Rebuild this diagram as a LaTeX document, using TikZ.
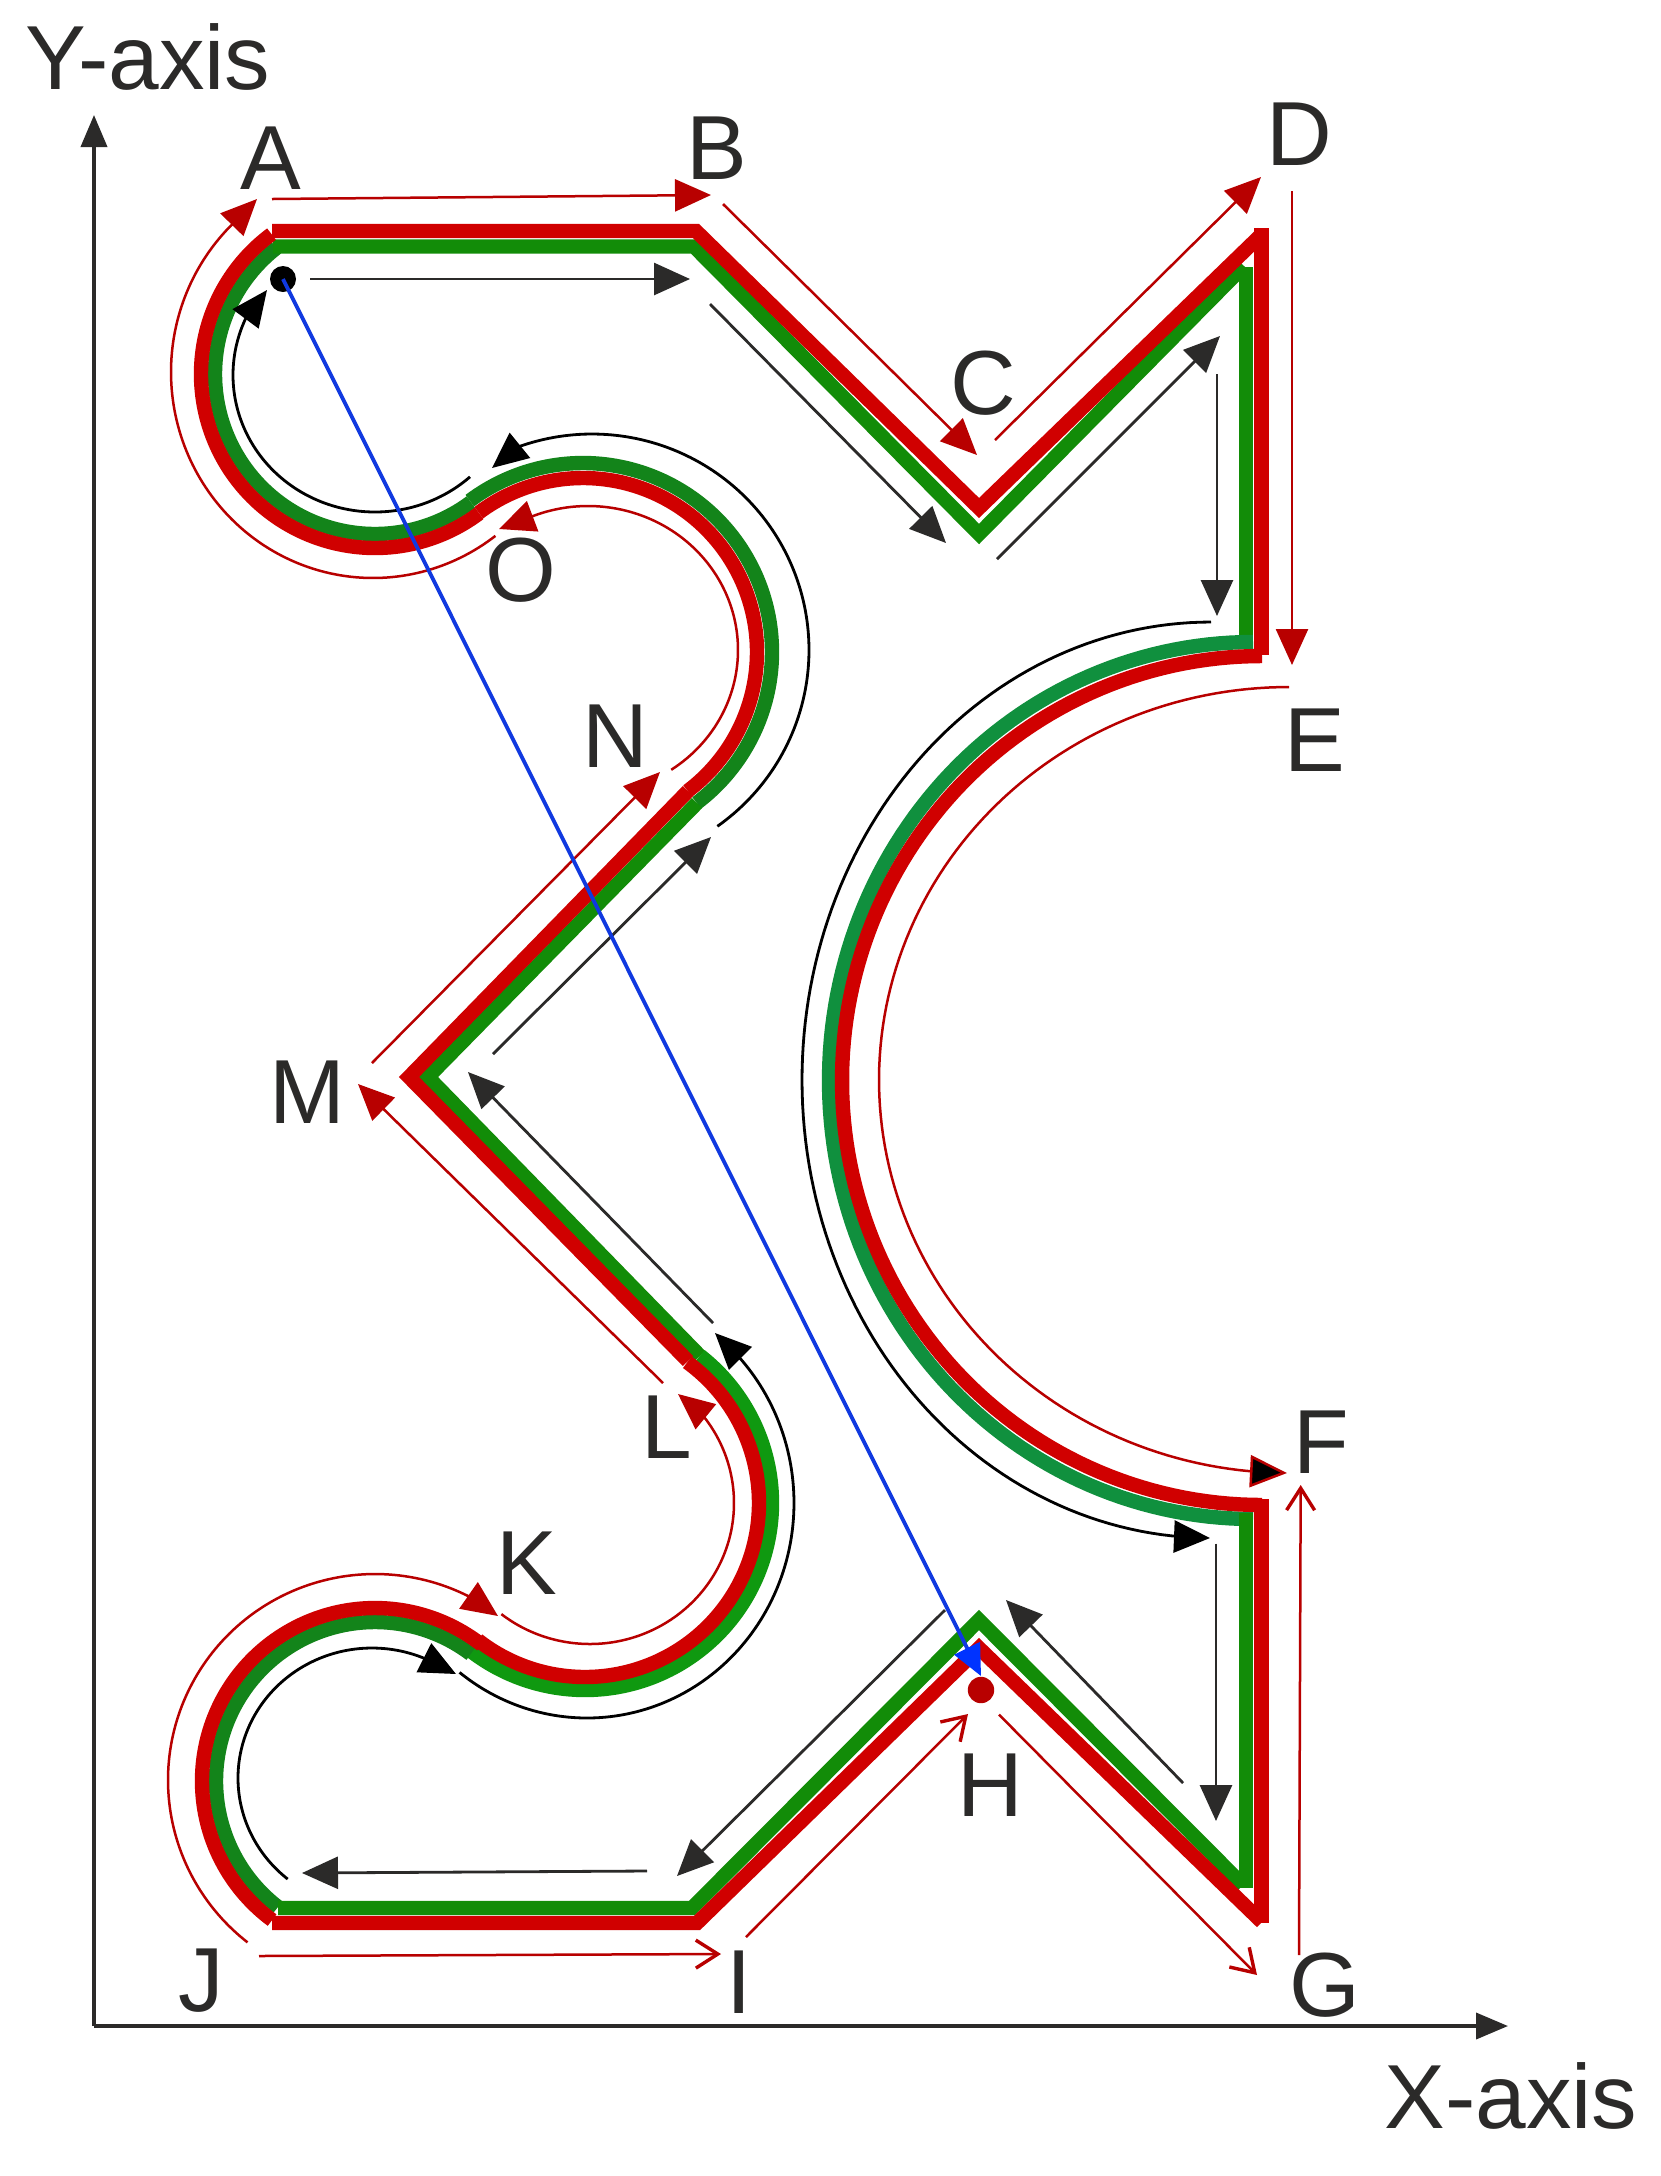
\documentclass[tikz,border=0pt]{standalone}
\usepackage{fontspec}
\setmainfont{Liberation Sans}
\usetikzlibrary{arrows.meta}
\definecolor{ink}{HTML}{2B2A29}
\definecolor{thickred}{HTML}{D00000}
\definecolor{thinred}{HTML}{B80000}
\definecolor{gstraight}{HTML}{128C08}
\definecolor{gdark}{HTML}{13841A}
\definecolor{gbright}{HTML}{0F9910}
\definecolor{gbig}{HTML}{10903E}
\definecolor{bluel}{HTML}{1039E0}
\definecolor{blueh}{HTML}{0033FF}
% elliptic arc as a polyline: cx cy rx ry from to (angles run clockwise on screen)
\newcommand{\earc}[6]{plot[samples=120,domain=#5:#6] ({#1+#3*cos(\x)},{#2+#4*sin(\x)})}
\tikzset{
  x=0.5pt,y=-0.5pt,
  band/.style={line width=7.2pt,line cap=butt,line join=miter,miter limit=10},
  rband/.style={band,draw=thickred},
  thinr/.style={draw=thinred,line width=1.25pt,line join=round},
  thinb/.style={draw=black,line width=1.4pt,line join=round},
  thins/.style={draw=ink,line width=1.4pt},
  tri/.style={-{Triangle[length=18pt,width=16pt]}},
  barb/.style={-{Straight Barb[length=11pt,width=14pt,line width=1.7pt]}},
  lab/.style={anchor=base,inner sep=0pt,text=ink,font=\fontsize{45.5pt}{50pt}\selectfont},
  axis/.style={draw=ink,line width=1.9pt,-{Triangle[length=16pt,width=13pt]}},
}
\begin{document}
\begin{tikzpicture}
\useasboundingbox[fill=white] (0,0) rectangle (1661,2176);

% axes
\coordinate (origin) at (94,2026);
\coordinate (ytip) at (94,115);
\coordinate (xtip) at (1508,2026);
\draw[axis] (origin) -- (ytip);
\draw[axis] (origin) -- (xtip);

% green band
\draw[band,draw=gdark] \earc{375}{374}{160}{160}{232}{53.2};
\draw[band,draw=gdark] \earc{583}{652}{189}{189}{233.2}{413};
\draw[band,draw=gstraight] (697,803) -- (428,1077) -- (700,1356);
\draw[band,draw=gbright] \earc{585}{1503}{187}{187}{-52}{128};
\draw[band,draw=gdark] \earc{375}{1781}{159}{159}{307}{127.6};
\draw[band,draw=gstraight] (273,246.5) -- (694,246.5) -- (979,534) -- (1244,266);
\draw[band,draw=gstraight] (1246,267) -- (1246,647);
\draw[band,draw=gbig] \earc{1253}{1080.5}{424}{438.5}{270}{90};
\draw[band,draw=gstraight] (1246,1513) -- (1246,1888);
\draw[band,draw=gstraight] (1243,1885) -- (979,1620) -- (692,1908) -- (278,1908);

% red band
\draw[rband] \earc{375}{374}{174}{174}{233.5}{53.2} ;
\draw[rband] \earc{583}{652}{174}{174}{233.2}{413};
\draw[rband] (688,791) -- (409,1077) -- (688,1361);
\draw[rband] \earc{585}{1503}{174}{174}{-54}{128};
\draw[rband] \earc{375}{1781}{173}{173}{308}{126.5};
\draw[rband] (272,231) -- (696,231) -- (979,508) -- (1263,233);
\draw[rband] (1261.5,228) -- (1261.5,655);
\draw[rband] \earc{1262}{1080.5}{420}{424.5}{270}{90};
\draw[rband] (1261.5,1499) -- (1261.5,1923);
\draw[rband] (1262,1922) -- (979,1648) -- (697,1923) -- (272,1923);

% thin red arrows
\draw[thinr,tri] (272,199) -- (711,195);
\draw[thinr,tri] (723,204) -- (977,455);
\draw[thinr,tri] (995,440) -- (1261,177);
\draw[thinr,tri] (1292,191) -- (1292,665);
\draw[thinr,-{Triangle[length=18.5pt,width=16pt,fill=black]}] \earc{1289}{1080}{410}{393}{270}{95.5} -- (1287,1473);
\draw[thinr,barb] (1299,1955) -- (1300.7,1485);
\draw[thinr,barb] (999,1714.6) -- (1257,1975);
\draw[thinr,barb] (746,1937) -- (968,1714);
\draw[thinr,barb] (259,1956) -- (721,1954);
\draw[thinr,tri] \earc{375}{1780}{207}{206}{128}{298.3} -- (498,1616);
\draw[thinr,tri] \earc{590}{1503}{144}{141}{128}{-40.3} -- (678,1394);
\draw[thinr,tri] (663,1383) -- (358,1084);
\draw[thinr,tri] (372,1063) -- (660,772);
\draw[thinr,tri] \earc{588}{650}{150}{144}{56.3}{-113.8} -- (499,529);
\draw[thinr,tri] \earc{373}{372}{202}{206}{52.7}{226} -- (257,199);

% black arrows
\draw[thins,tri] (310,279) -- (690,279);
\draw[thins,tri] (710,304) -- (946,543);
\draw[thins,tri] (997,559) -- (1220,336);
\draw[thins,tri] (1217,374) -- (1217,616);
\draw[thinb,tri] \earc{1211}{1080}{409}{458}{270}{94} -- (1210,1538);
\draw[thins,tri] (1216,1543.5) -- (1216,1821);
\draw[thins,tri] (1183,1783) -- (1006,1600);
\draw[thins,tri] (945,1610) -- (677,1876);
\draw[thins,tri] (647,1871) -- (302,1873);
\draw[thinb,tri] \earc{372}{1778}{134}{130}{129}{296} -- (456,1674);
\draw[thinb,tri] \earc{587}{1503}{207}{215}{128}{-43.3} -- (715,1333);
\draw[thins,tri] (713,1323) -- (468,1072);
\draw[thins,tri] (493,1054) -- (711,837);
\draw[thinb,tri] \earc{592}{650}{217}{216}{54.7}{-110} -- (492,468);
\draw[thinb,tri] \earc{375}{375}{142}{137}{48}{204} -- (267,290);

% dots and blue connector
\node[circle,fill=black,inner sep=0pt,minimum size=13pt] (startdot) at (283,279) {};
\node[circle,fill=thinred,inner sep=0pt,minimum size=13.2pt] (enddot) at (981,1690) {};
\coordinate (bluetip) at (981,1676);
\draw[draw=bluel,line width=1.9pt,-{Triangle[length=15.5pt,width=14pt,fill=blueh,color=blueh]}] (startdot.center) -- (bluetip);

% labels
\node[lab] (A) at (270.5,189) {A};
\node[lab] (B) at (717,179) {B};
\node[lab] (C) at (983,414) {C};
\node[lab] (D) at (1299,165) {D};
\node[lab] (E) at (1315,771) {E};
\node[lab] (F) at (1321,1473) {F};
\node[lab] (G) at (1325,2016) {G};
\node[lab] (H) at (990,1816) {H};
\node[lab] (I) at (739.5,2013) {I};
\node[lab] (J) at (201,2011) {J};
\node[lab] (K) at (527,1594) {K};
\node[lab] (L) at (667,1458) {L};
\node[lab] (M) at (307,1123) {M};
\node[lab] (N) at (615,767) {N};
\node[lab] (O) at (520.5,601) {O};
\node[lab] (yaxis) at (148,89) {Y-axis};
\node[lab] (xaxis) at (1511,2128) {X-axis};
\end{tikzpicture}
\end{document}
